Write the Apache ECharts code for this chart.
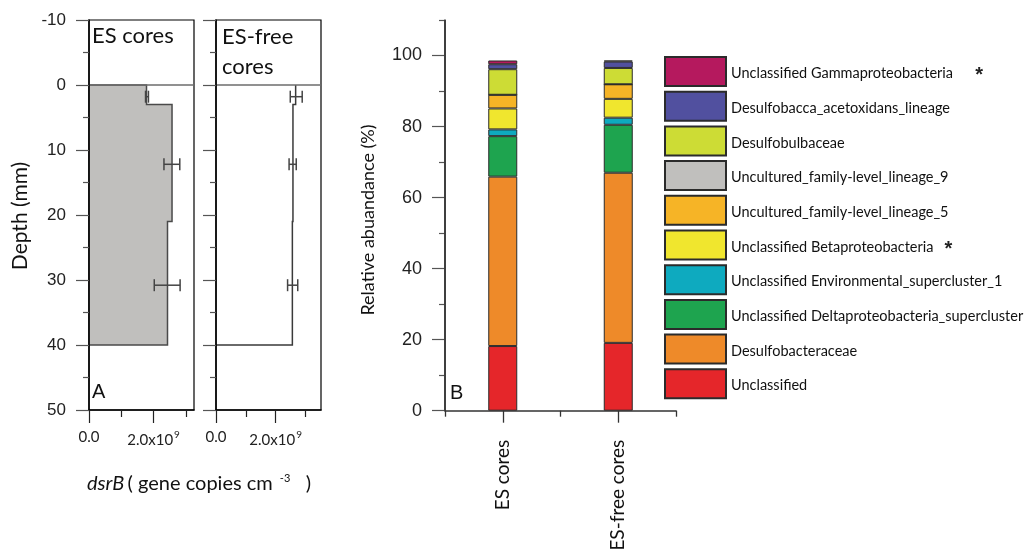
<!DOCTYPE html>
<html><head><meta charset="utf-8">
<script src="https://cdn.jsdelivr.net/npm/echarts@6/dist/echarts.min.js"></script>
<style>html,body{margin:0;padding:0;background:#fff}#c{width:1027px;height:552px}</style>
</head><body><div id="c"></div>
<script>
// ---------- Panel A data (dsrB profiles) ----------
const layerTop = [0, 3, 21];
const layerBottom = [3, 21, 40];
const esDsrB = [1.78e9, 2.57e9, 2.43e9];
const freeDsrB = [2.67e9, 2.58e9, 2.56e9];
const errDepth = [1.8, 12.2, 30.8];
const esErrLow = [1.75e9, 2.32e9, 2.02e9];
const esErrHigh = [1.84e9, 2.81e9, 2.82e9];
const freeErrLow = [2.49e9, 2.45e9, 2.40e9];
const freeErrHigh = [2.89e9, 2.69e9, 2.74e9];
const dsrMajorTicks = [0, 2e9];
const dsrMinorTicks = [1e9, 3e9];

// ---------- Panel B data (relative abundance) ----------
const categories = ['ES cores', 'ES-free cores'];
const seriesNames = [
  'Unclassified',
  'Desulfobacteraceae',
  'Unclassified Deltaproteobacteria_supercluster',
  'Unclassified Environmental_supercluster_1',
  'Unclassified Betaproteobacteria',
  'Uncultured_family-level_lineage_5',
  'Uncultured_family-level_lineage_9',
  'Desulfobulbaceae',
  'Desulfobacca_acetoxidans_lineage',
  'Unclassified Gammaproteobacteria'
];
const unclassified = [18.2, 19.1];
const desulfobacteraceae = [47.7, 47.9];
const deltaSupercluster = [11.4, 13.5];
const envSupercluster = [1.9, 2.0];
const betaproteobacteria = [5.9, 5.3];
const lineage5 = [3.85, 4.1];
const lineage9 = [0, 0];
const desulfobulbaceae = [7.2, 4.6];
const desulfobacca = [1.4, 1.8];
const gammaproteobacteria = [1.05, 0.3];
const seriesValues = [unclassified, desulfobacteraceae, deltaSupercluster, envSupercluster,
  betaproteobacteria, lineage5, lineage9, desulfobulbaceae, desulfobacca, gammaproteobacteria];
const seriesColors = ['#e5262a', '#ee8a29', '#1ea44f', '#0eaabf', '#f0e62e',
  '#f6b426', '#c0bfbd', '#cddc35', '#51509f', '#b5195e'];
const starred = ['Unclassified Gammaproteobacteria', 'Unclassified Betaproteobacteria'];
const abundMajorTicks = [0, 20, 40, 60, 80, 100];
const abundMinorTicks = [10, 30, 50, 70, 90, 110];

// category slots: blank, cat1, blank, cat2, blank
const slots = ['', categories[0], '', categories[1], ''];
function toSlots(arr) { return [null, arr[0], null, arr[1], null]; }

const chart = echarts.init(document.getElementById('c'), null, {renderer: 'canvas'});

const tickColor = '#555';
const numFont = 'Liberation Sans';
const txtFont = 'Lato';

function dsrFormatter(v) {
  if (v === 0) return '0.0';
  return '{n|' + (v / 1e9).toFixed(1) + 'x10}{sup|9}';
}
const dsrRich = {n: {fontSize: 15, fontFamily: txtFont, color: '#222'}, sup: {fontSize: 10, fontFamily: txtFont, color: '#222', verticalAlign: 'top', padding: [0, 0, 10, 1]}};

function depthAxis(grid, showLabel) {
  return {
    gridIndex: grid, type: 'value', position: 'left', inverse: true, min: -10, max: 50, interval: 10, z: 10,
    axisLine: {show: true, onZero: false, lineStyle: {color: '#000', width: 1.5}},
    axisTick: {show: true, length: 13, lineStyle: {color: tickColor, width: 1.2}},
    minorTick: {show: true, splitNumber: 2, length: 6, lineStyle: {color: tickColor, width: 1.2}},
    axisLabel: {show: showLabel, fontSize: 17, fontFamily: numFont, color: '#222', margin: 23},
    splitLine: {show: false}, minorSplitLine: {show: false}
  };
}
function dsrAxis(grid, max, major) {
  if (major) {
    return {
      gridIndex: grid, type: 'value', position: 'bottom', min: 0, max: max, interval: 1e9, z: 10,
      axisLine: {show: true, onZero: false, lineStyle: {color: '#000', width: 1.5}},
      axisTick: {show: true, length: 13, customValues: dsrMajorTicks, lineStyle: {color: '#222', width: 1.2}},
      axisLabel: {show: true, customValues: dsrMajorTicks, formatter: dsrFormatter, rich: dsrRich,
        fontSize: 15, fontFamily: txtFont, color: '#222', margin: 20},
      splitLine: {show: false}
    };
  }
  return {
    gridIndex: grid, type: 'value', position: 'bottom', min: 0, max: max, interval: 1e9, z: 10,
    axisLine: {show: false, onZero: false},
    axisTick: {show: true, length: 7, customValues: dsrMinorTicks, lineStyle: {color: '#222', width: 1.2}},
    axisLabel: {show: false}, splitLine: {show: false}
  };
}

function profileSeries(xi, yi, values, fill) {
  return {
    type: 'custom', xAxisIndex: xi, yAxisIndex: yi, data: [0], silent: true, z: 2,
    renderItem: function (params, api) {
      const pts = [];
      if (fill) pts.push(api.coord([0, layerTop[0]]));
      for (let i = 0; i < values.length; i++) {
        pts.push(api.coord([values[i], layerTop[i]]));
        pts.push(api.coord([values[i], layerBottom[i]]));
      }
      pts.push(api.coord([0, layerBottom[layerBottom.length - 1]]));
      if (fill) {
        return {type: 'polygon', shape: {points: pts}, style: {fill: '#c0bfbd', stroke: '#4a4a4a', lineWidth: 1.5}};
      }
      return {type: 'polyline', shape: {points: pts}, style: {fill: null, stroke: '#3a3a3a', lineWidth: 1.5}};
    }
  };
}
function errorSeries(xi, yi, lows, highs) {
  return {
    type: 'custom', xAxisIndex: xi, yAxisIndex: yi, silent: true, z: 4,
    data: errDepth.map((d, i) => [lows[i], highs[i], d]),
    renderItem: function (params, api) {
      const a = api.coord([api.value(0), api.value(2)]);
      const b = api.coord([api.value(1), api.value(2)]);
      const st = {stroke: '#444', lineWidth: 1.5};
      return {type: 'group', children: [
        {type: 'line', shape: {x1: a[0], y1: a[1], x2: b[0], y2: b[1]}, style: st},
        {type: 'line', shape: {x1: a[0], y1: a[1] - 6, x2: a[0], y2: a[1] + 6}, style: st},
        {type: 'line', shape: {x1: b[0], y1: b[1] - 6, x2: b[0], y2: b[1] + 6}, style: st}
      ]};
    },
    markLine: {silent: true, symbol: 'none', animation: false, label: {show: false},
      lineStyle: {color: '#6d6d6d', width: 1.5, type: 'solid'}, data: [{yAxis: 0}]}
  };
}

const barSeries = seriesNames.map((name, i) => ({
  name: name, type: 'bar', stack: 'abund', xAxisIndex: 4, yAxisIndex: 2,
  barWidth: 29, data: toSlots(seriesValues[i]),
  itemStyle: {color: seriesColors[i], borderColor: '#2b2b2b', borderWidth: 1}
}));

// vertical axis line of panel B, placed through the library's own scales (first slot, 0 → 110)
const bAxisLine = {
  type: 'custom', xAxisIndex: 4, yAxisIndex: 2, silent: true, z: 30, data: [[0, 0]],
  renderItem: function (params, api) {
    const a = api.coord([0, abundMajorTicks[0]]);
    const b = api.coord([0, abundMinorTicks[abundMinorTicks.length - 1]]);
    return {type: 'line', shape: {x1: a[0], y1: a[1], x2: b[0], y2: b[1]}, style: {stroke: '#333', lineWidth: 1.5}};
  }
};

const option = {
  animation: false,
  backgroundColor: '#fff',
  grid: [
    {left: 89, top: 20, width: 105, height: 390, show: true, borderColor: '#000', borderWidth: 1.2, backgroundColor: 'transparent', containLabel: false, outerBoundsMode: 'none'},
    {left: 216, top: 20, width: 105, height: 390, show: true, borderColor: '#000', borderWidth: 1.2, backgroundColor: 'transparent', containLabel: false, outerBoundsMode: 'none'},
    {left: 445, top: 20, width: 231, height: 390.7, containLabel: false, outerBoundsMode: 'none'}
  ],
  xAxis: [
    dsrAxis(0, 3.25e9, true),
    dsrAxis(0, 3.25e9, false),
    dsrAxis(1, 3.52e9, true),
    dsrAxis(1, 3.52e9, false),
    {
      gridIndex: 2, type: 'category', position: 'bottom', data: slots, boundaryGap: false, z: 10,
      axisLine: {show: true, onZero: false, lineStyle: {color: '#333', width: 1.5}},
      axisTick: {show: true, length: 12, interval: (i) => i % 2 === 1, lineStyle: {color: '#333', width: 1.3}},
      axisLabel: {show: true, interval: 0, rotate: 90, margin: 29, fontSize: 19, fontFamily: txtFont, color: '#111'},
      splitLine: {show: false}
    },
    {
      gridIndex: 2, type: 'category', position: 'bottom', data: slots, boundaryGap: false, z: 10,
      axisLine: {show: false, onZero: false},
      axisTick: {show: true, length: 6, interval: (i) => i % 2 === 0, lineStyle: {color: '#333', width: 1.3}},
      axisLabel: {show: false}, splitLine: {show: false}
    }
  ],
  yAxis: [
    depthAxis(0, true),
    depthAxis(1, false),
    {
      gridIndex: 2, type: 'value', position: 'left', min: 0, max: 110, interval: 10, z: 10,
      axisLine: {show: true, onZero: false, lineStyle: {color: '#333', width: 1.5}},
      axisTick: {show: true, length: 13, customValues: abundMajorTicks, lineStyle: {color: tickColor, width: 1.2}},
      axisLabel: {show: true, customValues: abundMajorTicks, fontSize: 18, fontFamily: numFont, color: '#222', margin: 23},
      splitLine: {show: false}
    },
    {
      gridIndex: 2, type: 'value', position: 'left', min: 0, max: 110, interval: 10, z: 10,
      axisLine: {show: false, onZero: false},
      axisTick: {show: true, length: 6, customValues: abundMinorTicks, lineStyle: {color: tickColor, width: 1.2}},
      axisLabel: {show: false}, splitLine: {show: false}
    }
  ],
  legend: {
    orient: 'vertical', left: 659, top: 51, itemWidth: 61, itemHeight: 29, itemGap: 3.7,
    icon: 'rect', selectedMode: false, z: 1,
    data: seriesNames.slice().reverse(),
    textStyle: {fontFamily: txtFont, fontSize: 14.5, lineHeight: 16, color: '#111', padding: [4, 0, 0, 0],
      rich: {s: {fontFamily: numFont, fontSize: 20, lineHeight: 16, fontWeight: 'bold', color: '#222', padding: [4, 0, 0, 0]}}},
    formatter: (name) => starred.includes(name) ? name + (name.includes('Gamma') ? '      ' : '   ') + '{s|*}' : name
  },
  graphic: [
    {type: 'text', left: 92, top: 25, style: {text: 'ES cores', font: '22px Lato', fill: '#111'}},
    {type: 'text', left: 222, top: 22, style: {text: 'ES-free\ncores', font: '22px Lato', fill: '#111', lineHeight: 30}},
    {type: 'text', left: 92, top: 382, style: {text: 'A', font: '20px "Liberation Sans"', fill: '#111'}},
    {type: 'text', left: 450, top: 383, style: {text: 'B', font: '20px "Liberation Sans"', fill: '#111'}},
    {type: 'text', x: 20, y: 216, rotation: Math.PI / 2, style: {text: 'Depth (mm)', font: '21px Lato', fill: '#111', align: 'center', verticalAlign: 'middle'}},
    {type: 'text', x: 368, y: 220, rotation: Math.PI / 2, style: {text: 'Relative abuandance (%)', font: '18px Lato', fill: '#111', align: 'center', verticalAlign: 'middle'}},
    {type: 'text', x: 199, y: 484, style: {
      text: '{i|dsrB} {n|( gene copies cm }{sup|-3}{n|   )}', align: 'center', verticalAlign: 'middle',
      rich: {
        i: {fontFamily: txtFont, fontStyle: 'italic', fontSize: 20, fill: '#111'},
        n: {fontFamily: txtFont, fontSize: 20, fill: '#111'},
        sup: {fontFamily: txtFont, fontSize: 11, fill: '#111', verticalAlign: 'top', padding: [0, 0, 12, 2]}
      }}}
  ],
  series: [
    profileSeries(0, 0, esDsrB, true),
    errorSeries(0, 0, esErrLow, esErrHigh),
    profileSeries(2, 1, freeDsrB, false),
    errorSeries(2, 1, freeErrLow, freeErrHigh)
  ].concat(barSeries, [bAxisLine])
};
chart.setOption(option);
</script></body></html>
